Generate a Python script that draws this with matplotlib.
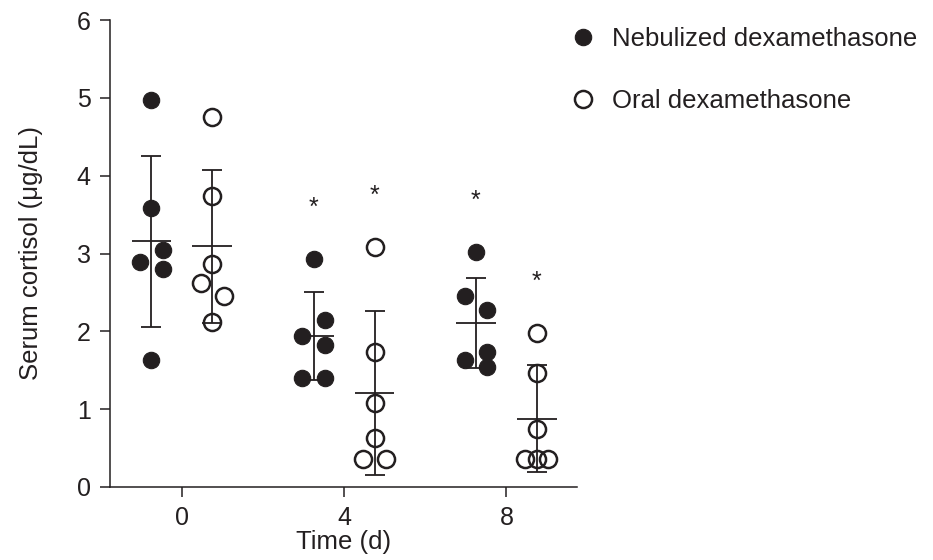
import numpy as np
import matplotlib.pyplot as plt
from matplotlib.lines import Line2D

plt.rcParams['font.family'] = ['Liberation Sans', 'DejaVu Sans']
plt.rcParams['font.size'] = 18.5
ink = '#231f20'

# serum cortisol (ug/dL), six subjects per group
days = [0, 4, 8]
nebulized = [
    [4.97, 3.59, 3.05, 2.89, 2.80, 1.63],
    [2.93, 2.14, 1.94, 1.83, 1.40, 1.40],
    [3.02, 2.45, 2.27, 1.73, 1.63, 1.54],
]
oral = [
    [4.76, 3.74, 2.87, 2.62, 2.45, 2.12],
    [3.08, 1.73, 1.08, 0.63, 0.36, 0.36],
    [1.98, 1.46, 0.74, 0.36, 0.36, 0.36],
]
sig_nebulized = [False, True, True]
sig_oral = [False, True, True]


def swarm_lanes(vals, gap=0.22):
    # spread points that sit too close vertically into side lanes
    v = np.asarray(vals, dtype=float)
    order = np.argsort(v, kind='stable')
    out = np.zeros(len(v))
    clusters, cur = [], [order[0]]
    for i in order[1:]:
        if v[i] - v[cur[-1]] < gap:
            cur.append(i)
        else:
            clusters.append(cur)
            cur = [i]
    clusters.append(cur)
    for c in clusters:
        if len(c) == 1:
            continue
        if np.ptp(v[c]) < 1e-9:
            out[c] = np.linspace(-1, 1, len(c))
        else:
            out[c] = [1 if k % 2 == 0 else -1 for k in range(len(c))]
    return out


fig = plt.figure(figsize=(9.33, 5.6), dpi=100)
ax = fig.add_axes([110 / 933, 73 / 560, 467 / 933, 467 / 560])

shift = 0.75
step = 0.28
for series, sig, side, filled in [(nebulized, sig_nebulized, -1, True),
                                  (oral, sig_oral, 1, False)]:
    for d, vals, s in zip(days, series, sig):
        xc = d + side * shift
        xs = xc + swarm_lanes(vals) * step
        if filled:
            ax.plot(xs, vals, 'o', ms=11.8, mfc=ink, mec=ink, mew=0.8,
                    ls='none', zorder=2)
        else:
            ax.plot(xs, vals, 'o', ms=12.3, mfc='none', mec=ink, mew=1.8,
                    ls='none', zorder=2)
        m = np.mean(vals)
        sd = np.std(vals, ddof=1)
        ax.errorbar(xc, m, yerr=sd, fmt='none', ecolor=ink, elinewidth=1.3,
                    capsize=7.5, capthick=1.3, zorder=3)
        ax.hlines(m, xc - 0.49, xc + 0.49, color=ink, lw=1.3, zorder=3)
        if s:
            ax.text(xc, max(vals) + 0.66, '*', ha='center', va='center',
                    fontsize=18, color=ink)

ax.set_xlim(-1.77, 9.74)
ax.set_ylim(0, 6)
ax.set_xticks(days)
ax.set_yticks(range(7))
ax.spines['top'].set_visible(False)
ax.spines['right'].set_visible(False)
for sp in ['left', 'bottom']:
    ax.spines[sp].set_linewidth(1.1)
    ax.spines[sp].set_color(ink)
ax.tick_params(length=7.5, width=1.1, color=ink, labelcolor=ink, labelsize=18,
               pad=6.5)
ax.set_xlabel('Time (d)', color=ink, labelpad=0)
ax.set_ylabel('Serum cortisol (\u03bcg/dL)', color=ink, labelpad=24)

handles = [
    Line2D([], [], marker='o', ls='none', ms=11.8, mfc=ink, mec=ink, mew=0.8),
    Line2D([], [], marker='o', ls='none', ms=12.3, mfc='none', mec=ink, mew=1.8),
]
fig.legend(handles, ['Nebulized dexamethasone', 'Oral dexamethasone'],
           loc='upper left', bbox_to_anchor=(0.611, 0.952), frameon=False,
           handlelength=1.0, handletextpad=0.62, labelspacing=1.49,
           borderaxespad=0, borderpad=0, labelcolor=ink)

fig.savefig('out.png', dpi=100)
